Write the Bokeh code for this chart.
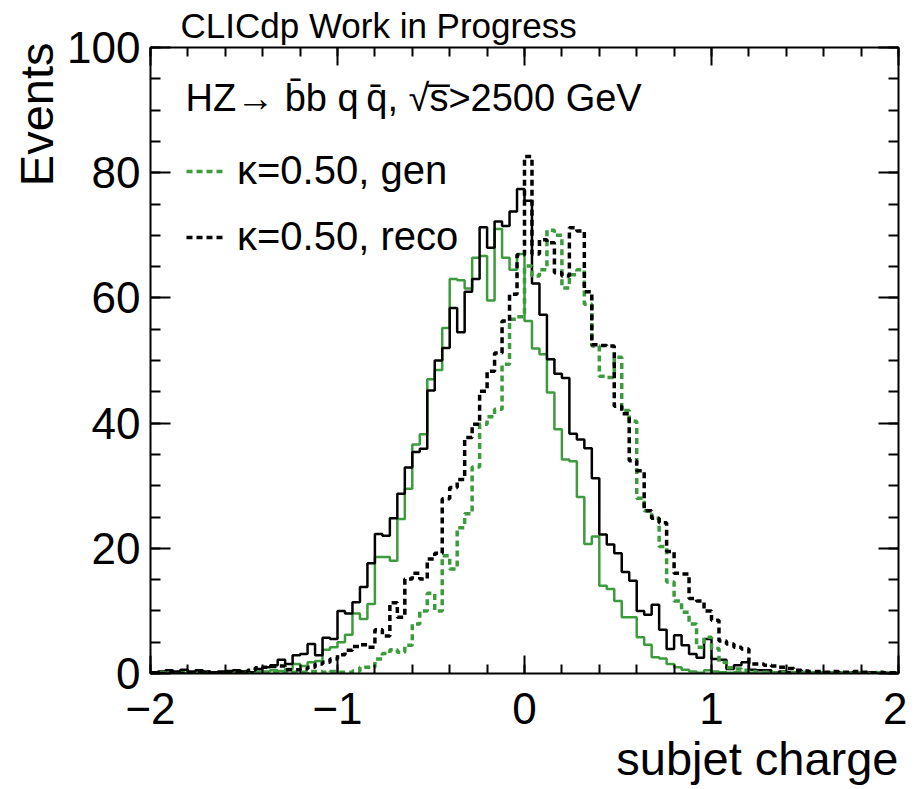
import numpy as np
from bokeh.plotting import figure
from bokeh.models import Range1d, LinearAxis, FixedTicker, Label, Legend, LegendItem, Title
from bokeh.embed import file_html
from bokeh.resources import INLINE

# ---------------- data (100 bins from -2 to 2) ----------------
bin_lo, bin_hi, n_bins = -2.0, 2.0, 100

green_solid = [
    0.1, 0.2, 0.1, 0.2, 0.1, 0.2, 0.3, 0.2, 0.1, 0.2,
    0.3, 0.2, 0.3, 0.2, 0.3, 0.3, 0.5, 0.4, 0.7, 1.5,
    1.2, 1.8, 2.0, 3.8, 4.2, 5.0, 6.2, 9.6, 8.7, 11.1,
    18.6, 18.6, 18.0, 24.7, 29.5, 36.6, 38.2, 47.0, 48.5, 55.2,
    63.0, 62.8, 61.5, 66.4, 66.7, 59.6, 71.0, 66.4, 64.5, 67.0,
    56.3, 51.9, 51.0, 44.9, 39.0, 34.2, 33.9, 28.2, 20.7, 21.9,
    14.0, 13.5, 11.6, 9.0, 9.0, 5.8, 4.6, 2.6, 2.4, 1.5,
    1.0, 0.6, 0.3, 0.1, 0.5, 0.3, 0.2, 0.1, 0.2, 0.1,
    0.1, 0.0, 0.1, 0.1, 0.0, 0.1, 0.0, 0.1, 0.0, 0.0,
    0.1, 0.0, 0.0, 0.1, 0.0, 0.0, 0.0, 0.1, 0.0, 0.0,
]

black_solid = [
    0.2, 0.3, 0.5, 0.3, 0.6, 0.3, 0.5, 0.3, 0.2, 0.3,
    0.4, 0.5, 0.3, 0.2, 0.7, 1.0, 1.3, 2.2, 1.5, 2.9,
    3.1, 4.7, 2.9, 5.7, 5.5, 10.0, 9.6, 11.4, 13.8, 17.6,
    22.3, 22.0, 24.8, 28.7, 32.9, 35.4, 35.9, 45.2, 50.0, 52.0,
    58.4, 54.5, 61.0, 63.0, 71.3, 68.0, 72.2, 71.5, 73.8, 77.4,
    75.5, 62.3, 57.3, 50.2, 47.9, 47.2, 38.3, 37.4, 36.0, 31.2,
    22.2, 20.6, 19.2, 16.2, 14.8, 10.0, 9.4, 11.0, 7.0, 3.9,
    6.1, 4.5, 3.1, 2.5, 5.5, 2.3, 2.2, 0.7, 1.3, 1.8,
    0.6, 0.5, 0.5, 0.2, 0.3, 0.2, 0.1, 0.2, 0.1, 0.2,
    0.1, 0.1, 0.2, 0.1, 0.1, 0.1, 0.2, 0.1, 0.1, 0.1,
]

green_dotted = [
    0.0, 0.1, 0.0, 0.0, 0.1, 0.0, 0.0, 0.1, 0.0, 0.1,
    0.0, 0.1, 0.1, 0.0, 0.1, 0.1, 0.2, 0.1, 0.1, 0.2,
    0.2, 0.3, 0.3, 0.2, 0.3, 0.2, 0.2, 0.4, 1.0, 1.0,
    2.3, 3.2, 3.8, 3.4, 4.5, 7.9, 10.0, 12.8, 10.0, 18.8,
    16.7, 23.3, 25.5, 33.0, 39.8, 41.0, 42.2, 49.4, 56.6, 57.0,
    65.1, 63.5, 64.5, 70.8, 70.0, 61.6, 63.7, 64.5, 59.0, 52.3,
    47.5, 47.3, 50.5, 42.0, 40.3, 28.0, 26.0, 24.8, 20.3, 14.6,
    11.6, 9.8, 7.9, 4.2, 5.8, 4.0, 1.8, 0.9, 0.7, 0.5,
    0.3, 0.2, 0.2, 0.1, 0.2, 0.1, 0.1, 0.2, 0.1, 0.1,
    0.0, 0.1, 0.1, 0.0, 0.1, 0.0, 0.0, 0.1, 0.0, 0.0,
]

black_dotted = [
    0.1, 0.0, 0.1, 0.1, 0.0, 0.1, 0.1, 0.2, 0.1, 0.1,
    0.2, 0.3, 0.3, 0.5, 0.9, 1.0, 1.1, 1.2, 0.6, 0.6,
    0.7, 1.0, 1.5, 1.8, 2.3, 3.0, 3.7, 4.3, 4.6, 4.2,
    7.0, 6.0, 11.3, 9.0, 15.1, 16.0, 15.1, 18.3, 19.2, 27.9,
    29.7, 31.0, 37.7, 39.8, 45.1, 48.3, 51.2, 56.3, 60.6, 66.9,
    82.6, 67.0, 69.3, 68.8, 64.0, 63.5, 71.2, 70.7, 61.0, 52.5,
    52.4, 52.3, 42.7, 41.5, 34.0, 32.4, 26.0, 24.8, 24.1, 19.5,
    16.0, 15.9, 12.0, 11.6, 10.0, 8.5, 5.2, 4.7, 4.2, 3.9,
    1.5, 1.5, 1.3, 1.2, 1.0, 0.8, 0.5, 0.4, 0.3, 0.3,
    0.2, 0.3, 0.2, 0.2, 0.3, 0.2, 0.1, 0.2, 0.1, 0.1,
]

x_major = [-2, -1, 0, 1, 2]
x_labels = ["\u22122", "\u22121", "0", "1", "2"]
y_major = [0, 20, 40, 60, 80, 100]
y_labels = ["0", "20", "40", "60", "80", "100"]

legend_gen = "\u03ba=0.50, gen"
legend_reco = "\u03ba=0.50, reco"
title_text = "CLICdp Work in Progress"
process_text = "HZ\u2192 b\u0304b q\u2009q\u0304,  \u221as\u0305>2500 GeV"
x_title = "subjet charge"
y_title = "Events"

GREEN = "#3c9b3c"
FONT = "Liberation Sans"

# ---------------- figure ----------------
edges = np.linspace(bin_lo, bin_hi, n_bins + 1)

p = figure(width=907, height=789, output_backend="svg", toolbar_location=None,
           x_range=Range1d(bin_lo, bin_hi), y_range=Range1d(0, 100),
           min_border_left=150, min_border_right=9, min_border_top=46, min_border_bottom=116)
p.outline_line_color = None
p.grid.visible = False
p.background_fill_color = "white"
p.border_fill_color = "white"


def step_y(vals):
    return list(vals) + [vals[-1]]


p.step(edges, step_y(green_solid), mode="after", line_color=GREEN, line_width=2.5)
p.step(edges, step_y(black_solid), mode="after", line_color="black", line_width=2.5)
r_gd = p.step(edges, step_y(green_dotted), mode="after", line_color=GREEN, line_width=3.5, line_dash="6 4")
r_bd = p.step(edges, step_y(black_dotted), mode="after", line_color="black", line_width=3.5, line_dash="6 4")

x_minor = [round(-2 + 0.2 * i, 2) for i in range(21)]
y_minor = list(range(0, 101, 5))


def style_axis(ax, major_len, minor_len):
    ax.axis_line_width = 2
    ax.axis_line_color = "black"
    ax.major_tick_line_width = 2
    ax.minor_tick_line_width = 2
    ax.major_tick_line_color = "black"
    ax.minor_tick_line_color = "black"
    ax.major_tick_in = major_len
    ax.major_tick_out = 0
    ax.minor_tick_in = minor_len
    ax.minor_tick_out = 0
    ax.major_label_text_font = FONT
    ax.major_label_text_color = "black"


xa = p.xaxis[0]
xa.ticker = FixedTicker(ticks=x_major, minor_ticks=x_minor)
style_axis(xa, 18, 9)
xa.major_label_overrides = {t: l for t, l in zip(x_major, x_labels)}
xa.major_label_text_font_size = "44px"
xa.major_label_standoff = 19

ya = p.yaxis[0]
ya.ticker = FixedTicker(ticks=y_major, minor_ticks=y_minor)
style_axis(ya, 20, 10)
ya.major_label_overrides = {t: l for t, l in zip(y_major, y_labels)}
ya.major_label_text_font_size = "44px"
ya.major_label_standoff = 10

top_ax = LinearAxis(ticker=FixedTicker(ticks=x_major, minor_ticks=x_minor))
style_axis(top_ax, 18, 9)
top_ax.major_label_overrides = {t: "" for t in x_major}
top_ax.major_label_standoff = 0
top_ax.major_label_text_font_size = "1px"
p.add_layout(top_ax, "above")

right_ax = LinearAxis(ticker=FixedTicker(ticks=y_major, minor_ticks=y_minor))
style_axis(right_ax, 20, 10)
right_ax.major_label_overrides = {t: "" for t in y_major}
right_ax.major_label_standoff = 0
right_ax.major_label_text_font_size = "1px"
p.add_layout(right_ax, "right")

# ---------------- texts ----------------
top_title = Title(text=title_text, align="left", offset=30, standoff=6,
                  text_font=FONT, text_font_size="35px", text_font_style="normal",
                  text_color="black")
p.add_layout(top_title, "above")

x_title_box = Title(text=x_title, align="right", offset=0, standoff=6, vertical_align="bottom",
                    text_font=FONT, text_font_size="47px", text_font_style="normal",
                    text_color="black")
p.add_layout(x_title_box, "below")

y_title_box = Title(text=y_title, align="right", offset=-5, standoff=4, vertical_align="bottom",
                    text_font=FONT, text_font_size="47px", text_font_style="normal",
                    text_color="black")
p.add_layout(y_title_box, "left")

p.add_layout(Label(x=bin_lo, y=100, x_offset=35, y_offset=-50, text=process_text,
                   text_font=FONT, text_font_size="38px", text_baseline="alphabetic",
                   text_color="black"))

legend = Legend(items=[LegendItem(label=legend_gen, renderers=[r_gd]),
                       LegendItem(label=legend_reco, renderers=[r_bd])],
                location=(36, 414), orientation="vertical")
legend.label_text_font = FONT
legend.label_text_font_size = "40px"
legend.label_text_color = "black"
legend.glyph_width = 37
legend.glyph_height = 44
legend.label_height = 44
legend.label_standoff = 14
legend.spacing = 21
legend.padding = 0
legend.margin = 0
legend.border_line_color = None
legend.background_fill_alpha = 0
p.add_layout(legend, "center")

open("out.html", "w").write(file_html(p, INLINE))
